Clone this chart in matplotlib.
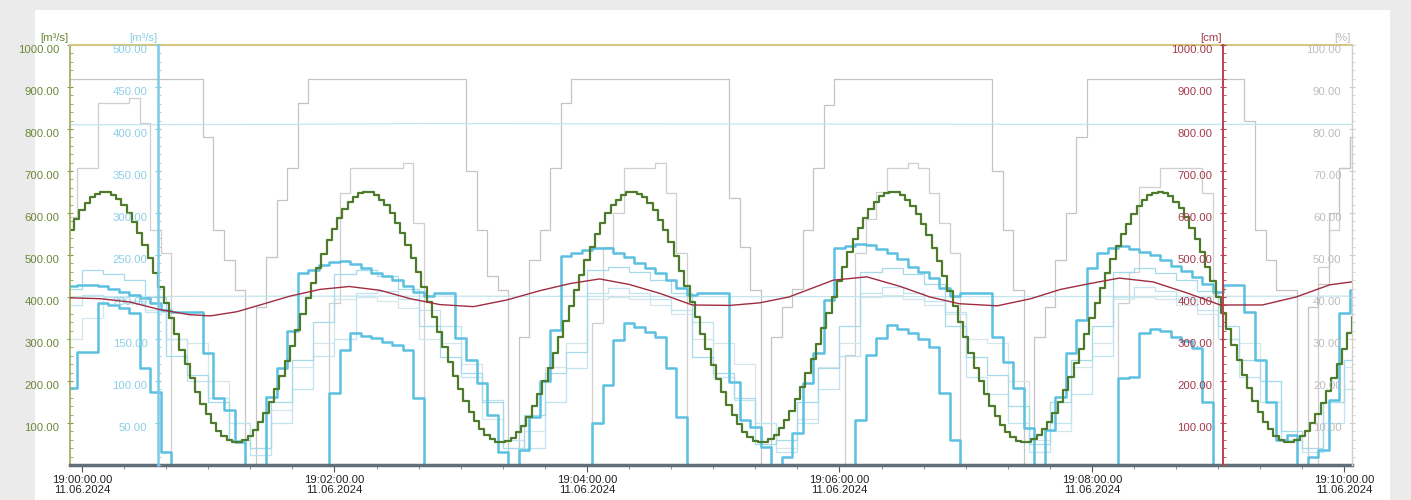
import numpy as np
import matplotlib
matplotlib.use('Agg')
import matplotlib.pyplot as plt
from matplotlib.ticker import MultipleLocator, FormatStrFormatter
from matplotlib.patches import Rectangle

plt.rcParams['font.family'] = ['Liberation Sans', 'DejaVu Sans']

# seconds after 19:00:00 (11.06.2024); 2.5 s, 5 s and 10 s samples
t2 = np.arange(-5, 605.1, 2.5)
t5 = np.arange(-5, 606, 5)
t10 = np.arange(-5, 606, 10)

# [m3/s] green axis - thick green series (2.5 s)
q_green = [560, 585, 606, 624, 637, 646, 650, 649, 644, 634,
           620, 601, 579, 553, 524, 492, 458, 423, 386, 349,
           312, 275, 240, 207, 175, 146, 121, 100, 82, 68,
           59, 55, 54, 60, 69, 84, 102, 125, 151, 180,
           213, 247, 283, 321, 359, 397, 434, 469, 503, 535,
           563, 588, 609, 626, 639, 647, 650, 649, 643, 632,
           618, 599, 577, 552, 523, 492, 459, 424, 388, 352,
           316, 280, 245, 212, 181, 153, 127, 105, 86, 72,
           62, 55, 54, 57, 65, 78, 94, 115, 140, 168,
           199, 232, 267, 304, 342, 379, 416, 452, 487, 519,
           549, 576, 599, 618, 632, 643, 649, 650, 646, 637,
           624, 606, 584, 559, 530, 497, 463, 427, 389, 352,
           313, 276, 239, 205, 173, 144, 119, 97, 79, 66,
           57, 54, 54, 61, 72, 87, 106, 129, 156, 186,
           218, 252, 289, 326, 363, 401, 437, 472, 506, 537,
           564, 589, 610, 627, 640, 647, 650, 649, 644, 631,
           616, 597, 574, 547, 517, 486, 451, 415, 378, 341,
           304, 267, 232, 199, 168, 140, 116, 95, 78, 66,
           57, 54, 54, 61, 71, 85, 103, 125, 150, 179,
           209, 242, 277, 313, 349, 386, 421, 456, 490, 521,
           550, 575, 598, 616, 631, 642, 648, 650, 648, 640,
           627, 611, 590, 565, 537, 506, 472, 437, 400, 362,
           324, 286, 250, 215, 183, 153, 126, 103, 85, 70,
           60, 55, 54, 59, 68, 81, 99, 121, 147, 176,
           207, 241, 277, 315, 352]

# thick blue flows (m3/s, 5 s)
q_blue1 = [426, 428, 428, 426, 420, 412, 405, 398, 385, 370,
           365, 365, 364, 267, 160, 131, 55, 0, 0, 162,
           230, 320, 457, 464, 476, 483, 486, 478, 469, 458,
           450, 440, 426, 412, 402, 410, 410, 302, 250, 195,
           120, 30, 0, 36, 114, 200, 321, 498, 505, 512,
           516, 516, 505, 495, 482, 470, 457, 440, 422, 405,
           410, 410, 410, 198, 107, 90, 43, 0, 20, 76,
           195, 267, 393, 516, 522, 526, 524, 515, 505, 490,
           472, 460, 445, 421, 402, 410, 410, 410, 305, 245,
           183, 88, 0, 83, 162, 267, 345, 470, 505, 516,
           521, 515, 508, 500, 488, 475, 462, 447, 430, 412,
           429, 429, 364, 250, 150, 60, 71, 0, 19, 36,
           155, 362, 417]

q_blue2 = [183, 269, 269, 386, 380, 374, 362, 231, 174, 30,
           0, 0, 0, 0, 0, 0, 0, 0, 0, 0,
           0, 0, 0, 0, 0, 171, 274, 314, 308, 302,
           294, 286, 274, 160, 0, 0, 0, 0, 0, 0,
           0, 0, 0, 0, 0, 0, 0, 0, 0, 0,
           100, 190, 298, 338, 328, 317, 305, 231, 114, 0,
           0, 0, 0, 0, 0, 0, 0, 0, 0, 0,
           0, 0, 0, 0, 0, 107, 262, 302, 333, 325,
           314, 300, 280, 171, 60, 0, 0, 0, 0, 0,
           0, 0, 0, 0, 0, 0, 0, 0, 0, 0,
           207, 210, 314, 325, 320, 305, 295, 279, 150, 0,
           0, 0, 0, 0, 0, 0, 0, 0, 0, 0,
           0, 0, 0]

# gate openings (drawn on the m3/s scale, 920 = 92 %)
gate1 = [920, 920, 920, 920, 920, 920, 920, 920, 920, 920,
         920, 920, 920, 781, 560, 488, 417, 0, 376, 495,
         631, 707, 862, 920, 920, 920, 920, 920, 920, 920,
         920, 920, 920, 920, 920, 920, 920, 920, 700, 560,
         450, 417, 0, 305, 488, 560, 707, 862, 920, 920,
         920, 920, 920, 920, 920, 920, 920, 920, 920, 920,
         920, 920, 920, 636, 520, 417, 0, 305, 376, 420,
         560, 707, 857, 920, 920, 920, 920, 920, 920, 920,
         920, 920, 920, 920, 920, 920, 920, 920, 700, 560,
         417, 0, 305, 376, 488, 600, 781, 920, 920, 920,
         920, 920, 920, 920, 920, 920, 920, 920, 920, 920,
         920, 920, 820, 560, 488, 417, 417, 0, 376, 430,
         600, 707, 781]

gate2 = [590, 707, 707, 862, 862, 862, 874, 814, 560, 505,
         0, 0, 0, 0, 0, 0, 0, 0, 0, 0,
         0, 0, 0, 0, 0, 386, 648, 707, 707, 707,
         707, 707, 719, 576, 0, 0, 0, 0, 0, 0,
         0, 0, 0, 0, 0, 0, 0, 0, 0, 0,
         338, 519, 600, 707, 707, 707, 719, 648, 505, 0,
         0, 0, 0, 0, 0, 0, 0, 0, 0, 0,
         0, 0, 0, 0, 262, 505, 585, 650, 707, 707,
         720, 707, 648, 576, 505, 0, 0, 0, 0, 0,
         0, 0, 0, 0, 0, 0, 0, 0, 0, 0,
         386, 460, 662, 662, 707, 707, 707, 707, 648, 0,
         0, 0, 0, 0, 0, 0, 0, 0, 0, 471,
         560, 707, 781]

# thin light blue flows, 10 s samples
q_thin1 = [420, 464, 455, 440, 400, 260, 215, 150, 60, 40,
           150, 250, 340, 455, 465, 450, 420, 330, 257, 219,
           150, 40, 120, 219, 270, 464, 471, 460, 440, 410,
           257, 219, 160, 50, 60, 150, 230, 330, 460, 470,
           455, 430, 330, 257, 215, 140, 50, 150, 250, 330,
           460, 468, 458, 440, 415, 330, 250, 200, 80, 40,
           150, 250]
q_thin2 = [380, 405, 400, 390, 365, 300, 200, 160, 100, 25,
           100, 180, 260, 300, 410, 415, 395, 370, 330, 210,
           155, 60, 40, 150, 230, 410, 421, 410, 395, 370,
           340, 210, 155, 100, 30, 100, 180, 260, 410, 425,
           410, 390, 365, 210, 170, 100, 30, 100, 170, 260,
           400, 425, 415, 395, 370, 300, 210, 150, 60, 30,
           100, 180]
q_thin3 = [300, 350, 395, 385, 370, 300, 290, 200, 100, 40,
           130, 233, 290, 395, 400, 390, 375, 300, 290, 240,
           110, 40, 80, 233, 290, 395, 400, 395, 380, 360,
           300, 290, 240, 100, 40, 110, 233, 290, 400, 405,
           395, 380, 360, 300, 290, 200, 60, 80, 233, 290,
           395, 400, 395, 380, 360, 300, 290, 200, 60, 40,
           150, 233]

# near-constant light cyan lines
flat_t = [-6, 100, 160, 300, 450, 604]
flat_hi = [810, 811, 813, 812, 811, 811]
flat_lo = [401, 402, 402, 401, 401, 402]

# water level [cm]
red_t = [-5.7, 8.6, 22.8, 37, 51, 61, 73.7, 84.6, 98.8, 113,
         127, 141.6, 156, 170, 186, 202, 217.6, 232, 246, 260,
         275, 290, 308, 322, 336, 357, 373, 389, 403, 417,
         435, 451, 465, 479, 493, 509, 525, 541, 561, 577,
         593, 603.5]
level_cm = [398, 396, 388, 370, 358, 355, 365, 381, 402, 418,
            425, 416, 396, 382, 377, 393, 415, 432, 443, 430,
            408, 381, 380, 386, 400, 440, 448, 425, 400, 384,
            379, 396, 418, 432, 445, 436, 410, 381, 381, 400,
            429, 436]

xtick_pos = [0, 120, 240, 360, 480, 600]
xtick_lab = ['19:00:00.00\n11.06.2024', '19:02:00.00\n11.06.2024',
             '19:04:00.00\n11.06.2024', '19:06:00.00\n11.06.2024',
             '19:08:00.00\n11.06.2024', '19:10:00.00\n11.06.2024']

W, H = 1411, 500
fig = plt.figure(figsize=(W / 100, H / 100), dpi=100, facecolor='#ebebeb')
fig.add_artist(Rectangle((35 / W, 0), (1390 - 35) / W, (H - 10) / H,
                         transform=fig.transFigure, facecolor='white',
                         edgecolor='none', zorder=-5))

ax = fig.add_axes([70 / W, 35 / H, 1282 / W, 420 / H])
ax.set_facecolor('white')
ax.set_xlim(-5.7, 603.6)
ax.set_ylim(0, 1000)

ax.plot(t5, gate2, drawstyle='steps-mid', color='#cfcfcf', lw=0.9)
ax.plot(t5, gate1, drawstyle='steps-mid', color='#c4c4c4', lw=0.9)
ax.plot(flat_t, flat_hi, color='#c4e4ee', lw=0.9)
ax.plot(flat_t, flat_lo, color='#c4e4ee', lw=0.9)
ax.plot(t10, q_thin3, drawstyle='steps-mid', color='#d6e7ec', lw=0.9)
ax.plot(t10, q_thin2, drawstyle='steps-mid', color='#c0e4f0', lw=0.9)
ax.plot(t10, q_thin1, drawstyle='steps-mid', color='#a6d9ea', lw=0.9)
ax.plot(t5, q_blue2, drawstyle='steps-mid', color='#5cc0e1', lw=1.8)
ax.plot(t5, q_blue1, drawstyle='steps-mid', color='#5cc0e1', lw=1.8)
ax.plot(t2, q_green, drawstyle='steps-mid', color='#4d7a2b', lw=1.6)

fs = 8.2
green_c, blue_c, red_c, gray_c = '#6e873a', '#8ccfe6', '#a53a4b', '#bdbdbd'

ax.spines['top'].set_color('#d5c77f')
ax.spines['top'].set_linewidth(1.5)
ax.spines['bottom'].set_color('#5f6e78')
ax.spines['bottom'].set_linewidth(2.5)
ax.spines['left'].set_color('#9aad55')
ax.spines['left'].set_linewidth(1.2)
ax.spines['right'].set_visible(False)

ax.set_xticks(xtick_pos)
ax.set_xticklabels(xtick_lab, fontsize=fs, color='#222222', linespacing=1.05)
ax.xaxis.set_minor_locator(MultipleLocator(20))
ax.tick_params(axis='x', which='major', direction='out', length=5, color='#555555', pad=2)
ax.tick_params(axis='x', which='minor', direction='out', length=3, color='#777777')

ax.set_yticks(range(100, 1001, 100))
ax.yaxis.set_major_formatter(FormatStrFormatter('%.2f'))
ax.yaxis.set_minor_locator(MultipleLocator(20))
ax.tick_params(axis='y', which='major', direction='inout', length=5, color='#8a9a50',
               labelcolor=green_c, labelsize=fs, pad=5)
ax.tick_params(axis='y', which='minor', direction='in', length=2, color='#8a9a50')


def side_axis(frac, top, step, minor, color, lcolor, lw):
    a = ax.twinx()
    a.set_ylim(0, top)
    for s in ['top', 'bottom', 'right']:
        a.spines[s].set_visible(False)
    a.spines['left'].set_visible(True)
    a.spines['left'].set_position(('axes', frac))
    a.spines['left'].set_color(color)
    a.spines['left'].set_linewidth(lw)
    a.yaxis.tick_left()
    a.set_yticks(np.arange(step, top + step / 2, step))
    a.yaxis.set_major_formatter(FormatStrFormatter('%.2f'))
    a.yaxis.set_minor_locator(MultipleLocator(minor))
    a.tick_params(axis='y', which='major', direction='inout', length=5, color=color,
                  labelcolor=lcolor, labelsize=fs, pad=5)
    a.tick_params(axis='y', which='minor', direction='in', length=2, color=color)
    return a


ax_b = side_axis(88 / 1282, 500, 50, 10, '#7ccbe6', blue_c, 1.8)
ax_r = side_axis(1153 / 1282, 1000, 100, 20, '#b8434f', red_c, 1.4)
ax_p = side_axis(1.0, 100, 10, 2, '#cfcfcf', gray_c, 1.0)

ax_r.plot(red_t, level_cm, color='#a02c40', lw=1.0)

for axis in [ax, ax_b, ax_r, ax_p]:
    for lab in axis.get_yticklabels():
        lab.set_va('top')

fig.text(68 / W, 1 - 38 / H, '[m³/s]', ha='right', va='center', fontsize=fs, color=green_c)
fig.text(157 / W, 1 - 38 / H, '[m³/s]', ha='right', va='center', fontsize=fs, color=blue_c)
fig.text(1222 / W, 1 - 38 / H, '[cm]', ha='right', va='center', fontsize=fs, color=red_c)
fig.text(1351 / W, 1 - 38 / H, '[%]', ha='right', va='center', fontsize=fs, color=gray_c)

fig.savefig('out.png', dpi=100, facecolor=fig.get_facecolor())
